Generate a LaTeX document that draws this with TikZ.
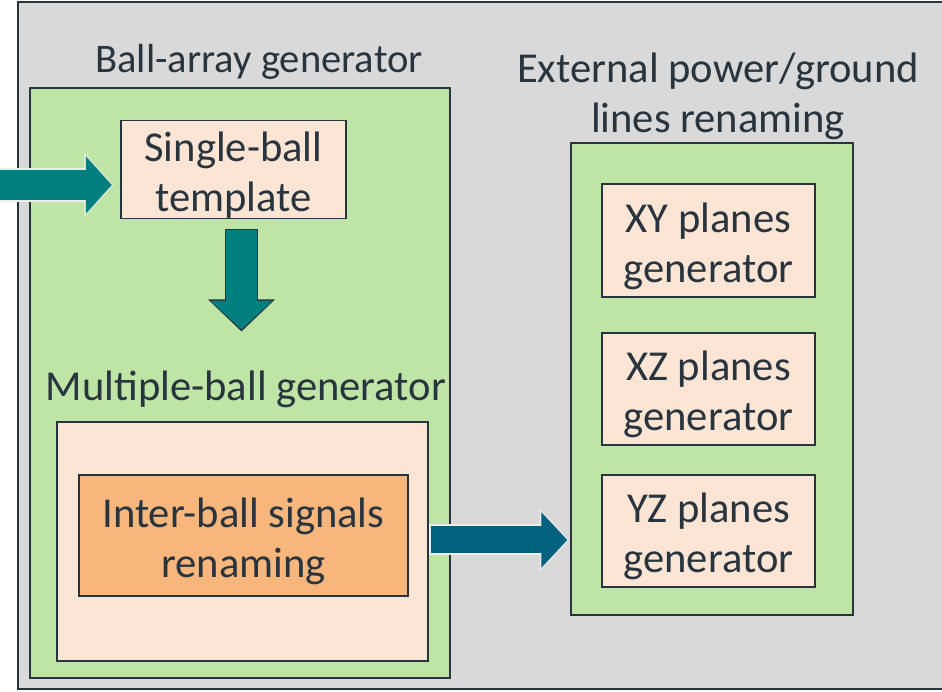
\documentclass[tikz,border=0pt]{standalone}
\usepackage{fontspec}
\setmainfont{Carlito}
\usepackage{tikz}
\usetikzlibrary{positioning,arrows.meta,calc}
\definecolor{slide}{HTML}{D9D9D9}
\definecolor{leaf}{HTML}{BEE5A5}
\definecolor{peach}{HTML}{FCE5D4}
\definecolor{apricot}{HTML}{F7B67C}
\definecolor{ink}{HTML}{28343E}
\definecolor{tealarr}{HTML}{007F7F}
\definecolor{petrol}{HTML}{00627F}
\definecolor{halo}{HTML}{EDEDED}
\newcommand{\tstrut}{\rule{0pt}{41pt}}

\begin{document}
\begin{tikzpicture}[
  x=1pt, y=1pt,
  font=\fontsize{42.6}{50}\selectfont, text=ink,
  frame/.style={draw=ink, line width=1.3pt, inner sep=0pt},
  grp/.style={frame, fill=leaf},
  blk/.style={frame, fill=peach, align=center},
  ttl/.style={align=center, inner sep=0pt},
  arrhalo/.style={halo, line width=34pt, -{Triangle[length=29pt,width=62pt]}},
  arrfill/.style={tealarr, line width=30pt, -{Triangle[length=26pt,width=56pt]}}
]
\useasboundingbox (0,0) rectangle (942,692);
\fill[white] (0,0) rectangle (942,692);
\draw[fill=slide, draw=ink, line width=1.3pt] (18,3) rectangle (960,690);

\node[ttl, font=\fontsize{40.6}{50}\selectfont] (bat) at (259,630) {Ball-array generator};
\node[grp, minimum width=420pt, minimum height=590pt] (bag) at (240,309) {};
\node[blk, minimum width=225pt, minimum height=97pt] (tmpl) at (233.5,522.5) {\tstrut Single-ball\\template};
\node[ttl] (mbt) at (246,303) {Multiple-ball generator};
\node[blk, minimum width=371pt, minimum height=239pt] (mb) at (242.5,150.5) {};
\node[blk, fill=apricot, minimum width=329pt, minimum height=121pt] (ibs) at (243.5,156.5) {\tstrut Inter-ball signals\\renaming};

\node[ttl] (ext) at (718,596) {External power/ground\\lines renaming};
\node[grp, minimum width=282pt, minimum height=472pt] (epg) at (712,313) {};
\node[blk, minimum width=213pt, minimum height=113pt] (xy) at (708.5,451.5) {\tstrut XY planes\\generator};
\node[blk, minimum width=213pt, minimum height=112pt] (xz) at (708.5,303) {\tstrut XZ planes\\generator};
\node[blk, minimum width=213pt, minimum height=112pt] (yz) at (708.5,161) {\tstrut YZ planes\\generator};

\coordinate (inL) at (-6,507);
\coordinate (dtip) at (241.5,360.5);

\draw[arrhalo, shorten >=7pt] (inL) -- (inL -| tmpl.west);
\draw[arrfill, shorten >=8.5pt] (inL) -- (inL -| tmpl.west);

\draw[ink, line width=33.5pt, -{Triangle[length=32pt,width=65pt]}, shorten <=9.5pt] (tmpl.south -| dtip) -- (dtip);
\draw[tealarr, line width=30.5pt, -{Triangle[length=28.5pt,width=60pt]}, shorten <=11pt, shorten >=2pt] (tmpl.south -| dtip) -- (dtip);

\draw[arrhalo, line width=31pt, -{Triangle[length=29pt,width=60pt]}, shorten >=1.5pt] ([yshift=1.5pt]mb.east) -- ([yshift=1.5pt]mb.east -| epg.west);
\draw[arrfill, petrol, line width=27pt, -{Triangle[length=26pt,width=54pt]}, shorten <=2pt, shorten >=3pt] ([yshift=1.5pt]mb.east) -- ([yshift=1.5pt]mb.east -| epg.west);
\end{tikzpicture}
\end{document}
